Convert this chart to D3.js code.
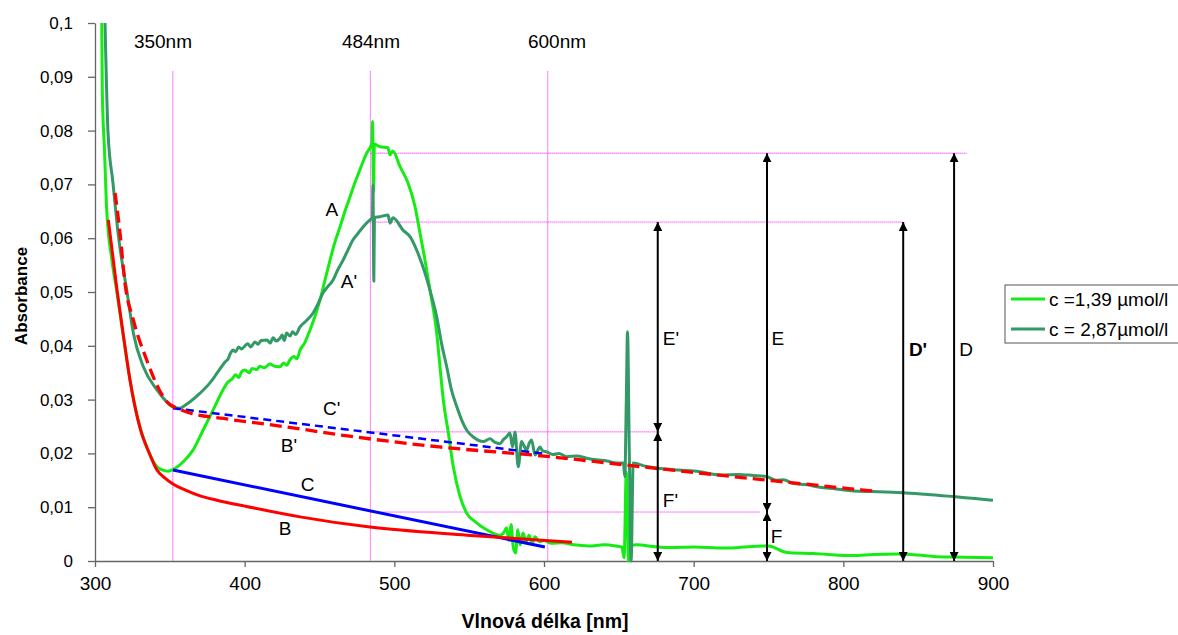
<!DOCTYPE html>
<html>
<head>
<meta charset="utf-8">
<script src="https://cdn.jsdelivr.net/npm/d3@7"></script>
<style>
    body { margin: 0; background: #fff; }
    text { font-family: "Liberation Sans", Arial, sans-serif; }
</style>
</head>
<body>
<div id="chart"></div>
<script>

// ---- data: [wavelength nm, absorbance] ----

// c = 1,39 µmol/l (light green)
const lowConc = [
    [304.5,0.100],[304.9,0.087],[306.3,0.0766],[307.8,0.0654],[311.2,0.0561],[314.5,0.0502],[318.7,0.0422],
    [322.7,0.0348],[328.7,0.0263],[335.4,0.0206],[341.4,0.0175],[345.4,0.0169],[348.8,0.0167],[352.1,0.0170],
    [358.8,0.0184],[365.5,0.0206],[372.2,0.0243],[378.8,0.0280],[385.5,0.0318],[389,0.0333],[391.5,0.0338],
    [394,0.0346],[396,0.0341],[398,0.0352],[400.2,0.0355],[403,0.0350],[405,0.0358],[408,0.0356],[410.2,0.0362],
    [413,0.0359],[416.9,0.0366],[420,0.0362],[423.6,0.0361],[426,0.0368],[428,0.0364],[430.3,0.0374],[433,0.0380],
    [435,0.0376],[437,0.0392],[440,0.0405],[443.6,0.0429],[447,0.0455],[450.3,0.0485],[453.5,0.0520],[457,0.0559],
    [460,0.0590],[463.7,0.0621],[467,0.0650],[470.4,0.0677],[473.5,0.0702],[477,0.0727],[481.5,0.0758],
    [483.7,0.0768],[485,0.0777],[485.5,0.0817],[486,0.0685],[486.7,0.0775],[490.4,0.0770],[495.8,0.0768],
    [497,0.0755],[499,0.0762],[503.8,0.0733],[509.1,0.0703],[513.8,0.0659],[517.1,0.0610],[520.5,0.0559],
    [523.8,0.0504],[528.3,0.0424],[530.5,0.0361],[532.7,0.0300],[536.1,0.0238],[539.4,0.0175],[543.9,0.0120],
    [548.3,0.0089],[555,0.0071],[561.7,0.0058],[570.6,0.0048],[573,0.0052],[575,0.0062],[576.5,0.0038],
    [578,0.0068],[579.5,0.0025],[581,0.0015],[582.5,0.0058],[584,0.0030],[586,0.0052],[588,0.0035],[590,0.0048],
    [592,0.0032],[594,0.0045],[597,0.0036],[600,0.0038],[605,0.0033],[612,0.0034],[620,0.0030],[630,0.0028],
    [640,0.0030],[648,0.0028],[652,0.0026],[653.5,0.0006],[655,0.0165],[656.5,0.0000],[658,0.0028],[662,0.0030],
    [672.8,0.0027],[685,0.0025],[700,0.0026],[720,0.0024],[739.6,0.0027],[750,0.0028],[762,0.0016],[780,0.0014],
    [806,0.0010],[820,0.0012],[835.5,0.0013],[850,0.0011],[862,0.0008],[880,0.0007],[900,0.0006]
];

// c = 2,87 µmol/l (dark green)
const highConc = [
    [306.7,0.100],[308.7,0.0796],[312.0,0.0703],[315.4,0.0610],[321.4,0.0500],[325.6,0.0424],[332.3,0.0361],
    [341.4,0.0318],[346.8,0.0299],[352.1,0.0286],[356.8,0.0284],[360,0.0289],[363.5,0.0296],[370.2,0.0312],
    [376.8,0.0331],[381.5,0.0349],[386.9,0.0370],[389,0.0376],[390.5,0.0386],[392.2,0.0392],[394,0.0389],
    [396,0.0398],[398,0.0394],[400.2,0.0400],[402,0.0404],[404,0.0398],[406.9,0.0407],[409,0.0403],[411,0.0410],
    [414.9,0.0411],[417,0.0405],[419,0.0415],[421,0.0409],[423.6,0.0414],[425,0.0420],[426.5,0.0410],[428,0.0424],
    [430.3,0.0418],[432,0.0426],[434,0.0421],[437,0.0435],[441,0.0446],[445.7,0.0461],[449,0.0478],[452.3,0.0498],
    [455.5,0.0510],[459,0.0522],[462,0.0540],[465.7,0.0559],[469,0.0578],[472.4,0.0597],[476,0.0610],[479.1,0.0621],
    [483.7,0.0634],[485.4,0.0638],[485.7,0.0699],[486.3,0.0520],[486.7,0.0639],[490.4,0.0640],[495.8,0.0643],
    [497.1,0.0628],[499.1,0.0638],[505.8,0.0615],[510.5,0.0603],[515.8,0.0572],[520.5,0.0535],[525,0.0491],
    [528.3,0.0454],[531.5,0.0405],[535,0.0361],[538,0.0320],[541.7,0.0287],[545,0.0262],[548.4,0.0243],
    [553,0.0230],[559.4,0.0222],[563.9,0.0227],[567,0.0221],[570.5,0.0218],[573,0.0226],[575,0.0231],
    [577.2,0.0238],[579,0.0212],[580.6,0.0240],[582.8,0.0175],[585,0.0222],[586.5,0.0215],[588.4,0.0206],
    [590,0.0218],[591.7,0.0225],[594,0.0197],[597.3,0.0212],[599,0.0205],[601.7,0.0203],[606,0.0198],[610,0.0200],
    [615,0.0194],[622,0.0195],[628.5,0.0191],[635,0.0188],[642,0.0186],[648.5,0.0182],[653,0.0182],[654,0.0157],
    [655,0.0300],[655.8,0.0426],[657,0.0200],[658.2,0.0000],[659.6,0.0182],[668,0.0176],[677.4,0.0172],
    [690,0.0169],[704,0.0166],[717.5,0.0160],[730,0.0161],[740,0.0159],[748.7,0.0157],[755,0.0150],[760,0.0151],
    [766.5,0.0144],[775,0.0142],[784.3,0.0137],[795,0.0134],[806.6,0.0130],[820,0.0129],[839.5,0.0127],
    [855,0.0124],[873.3,0.0120],[888,0.0116],[900,0.0113]
];

// baselines drawn by hand
const baseB = [
    [308.9,0.0634],[314.7,0.0504],[319.4,0.0411],[323.4,0.0336],[330.1,0.0247],[336.8,0.0197],[341.4,0.0169],
    [346.8,0.0154],[352.1,0.0143],[360.1,0.0132],[370.2,0.0121],[381.5,0.0113],[400.2,0.0102],[437,0.0082],
    [483.7,0.0063],[548.5,0.0048],[618.7,0.0035]
];
const baseBPrime = [
    [313.4,0.0684],[316.7,0.0610],[320,0.0517],[325.6,0.0448],[334.5,0.0374],[343,0.0318],[348,0.0296],
    [355,0.0284],[363.5,0.0275],[385.7,0.0265],[425.8,0.0250],[470,0.0232],[530,0.0212],[600,0.0195],
    [672,0.0173],[750,0.0150],[820,0.0130]
];
const baseC = [[352.1,0.0169],[600.6,0.0026]];
const baseCPrime = [[352.1,0.0284],[601,0.0199]];

// reference wavelengths and levels
const refWaves = [352, 484, 602.5];
const refTop = 0.091;
const waveLabels = ["350nm", "484nm", "600nm"];
const waveLabelX = [345.4, 484.4, 608.7];
const waveLabelY = 0.0965;

const levelValues = [0.0758, 0.0630, 0.0240, 0.0091];
const levelEnds = [882.5, 839.8, 677.5, 744.3];

// arrows: x, from, to
const arrowX = [676, 676, 749, 749, 840, 874];
const arrowFrom = [0.0630, 0.0240, 0.0758, 0.0091, 0.0630, 0.0758];
const arrowTo = [0.0240, 0.0, 0.0091, 0.0, 0.0, 0.0];

// letters
const letterText = ["A", "A'", "C'", "B'", "C", "B", "E'", "E", "D'", "D", "F'", "F"];
const letterX = [458.2, 469.7, 458.2, 429.6, 442, 427, 684.8, 756.3, 849.9, 882, 684.5, 755.4];
const letterY = [0.0653, 0.0520, 0.0284, 0.0215, 0.0143, 0.0061, 0.0414, 0.0414, 0.0394, 0.0394, 0.0113, 0.0046];

const xTicks = [300, 400, 500, 600, 700, 800, 900];
const yTicks = [0, 0.01, 0.02, 0.03, 0.04, 0.05, 0.06, 0.07, 0.08, 0.09, 0.1];

const legendNames = ["c =1,39 µmol/l", "c = 2,87µmol/l"];
const colors = {low: "#14ec14", high: "#339966", red: "#ff0000", blue: "#0000ff", ref: "#ff00ff"};


class SpectrumVis {

    constructor(parentElement) {
        this.parentElement = parentElement;
        this.initVis();
    }

    initVis() {
        let vis = this;

        vis.margin = {top: 23, right: 185, bottom: 74, left: 95};
        vis.width = 1178 - vis.margin.left - vis.margin.right;
        vis.height = 635 - vis.margin.top - vis.margin.bottom;

        vis.svg = d3.select(`#${vis.parentElement}`)
            .append("svg")
            .attr("width", 1178)
            .attr("height", 635);

        vis.g = vis.svg.append("g")
            .attr("transform", `translate(${vis.margin.left}, ${vis.margin.top})`);

        vis.x = d3.scaleLinear().domain([300, 900]).range([0, vis.width]);
        vis.y = d3.scaleLinear().domain([0, 0.1]).range([vis.height, 0]);

        vis.svg.append("defs").append("clipPath")
            .attr("id", "plotClip")
            .append("rect")
            .attr("x", 0).attr("y", 0)
            .attr("width", vis.width).attr("height", vis.height + 2);

        let marker = vis.svg.select("defs").append("marker")
            .attr("id", "arrowHead")
            .attr("viewBox", "0 0 10 10")
            .attr("refX", 10).attr("refY", 5)
            .attr("markerWidth", 9).attr("markerHeight", 9)
            .attr("markerUnits", "userSpaceOnUse")
            .attr("orient", "auto-start-reverse");
        marker.append("path").attr("d", "M0,0 L10,5 L0,10 Z").attr("fill", "#000");

        vis.line = d3.line()
            .x(d => vis.x(d[0]))
            .y(d => vis.y(d[1]))
            .curve(d3.curveMonotoneX);

        vis.drawAxes();
        vis.updateVis();
    }

    drawAxes() {
        let vis = this;

        let xAxis = d3.axisBottom(vis.x).tickValues(xTicks).tickSize(6).tickPadding(10).tickSizeOuter(0);
        let yAxis = d3.axisLeft(vis.y).tickValues(yTicks).tickSize(7).tickPadding(15).tickSizeOuter(0)
            .tickFormat(d => d3.format("")(+d.toFixed(2)).replace(".", ","));

        let gx = vis.g.append("g")
            .attr("transform", `translate(0, ${vis.height})`)
            .call(xAxis);
        let gy = vis.g.append("g").call(yAxis);

        [gx, gy].forEach(a => {
            a.select(".domain").attr("stroke", "#666").attr("stroke-width", 1.3);
            a.selectAll(".tick line").attr("stroke", "#666").attr("stroke-width", 1.3);
            a.selectAll(".tick text")
                .attr("fill", "#000")
                .style("font-family", '"Liberation Sans", Arial, sans-serif');
        });
        gx.selectAll(".tick text").style("font-size", "19px");
        gy.selectAll(".tick text").style("font-size", "17px");

        vis.g.append("text")
            .attr("transform", `translate(-68, ${vis.height / 2 + 4}) rotate(-90)`)
            .attr("text-anchor", "middle")
            .style("font-size", "17px")
            .style("font-weight", "bold")
            .text("Absorbance");

        vis.g.append("text")
            .attr("x", vis.x(600.7))
            .attr("y", vis.height + 67)
            .attr("text-anchor", "middle")
            .style("font-size", "19.5px")
            .style("font-weight", "bold")
            .text("Vlnová délka [nm]");
    }

    updateVis() {
        let vis = this;

        // magenta reference lines
        let refs = vis.g.append("g")
            .attr("stroke", colors.ref)
            .attr("stroke-width", 1)
            .attr("stroke-dasharray", "1,1");

        refs.selectAll(".vref")
            .data(refWaves)
            .enter().append("line")
            .attr("class", "vref")
            .attr("x1", d => vis.x(d)).attr("x2", d => vis.x(d))
            .attr("y1", vis.y(refTop)).attr("y2", vis.y(0));

        refs.selectAll(".href")
            .data(levelValues)
            .enter().append("line")
            .attr("class", "href")
            .attr("x1", vis.x(refWaves[1]))
            .attr("x2", (d, i) => vis.x(levelEnds[i]))
            .attr("y1", d => vis.y(d)).attr("y2", d => vis.y(d));

        vis.g.selectAll(".waveLabel")
            .data(waveLabels)
            .enter().append("text")
            .attr("class", "waveLabel")
            .attr("x", (d, i) => vis.x(waveLabelX[i]))
            .attr("y", vis.y(waveLabelY))
            .attr("dy", "0.35em")
            .attr("text-anchor", "middle")
            .style("font-size", "19px")
            .text(d => d);

        // spectra
        let plot = vis.g.append("g").attr("clip-path", "url(#plotClip)");

        plot.append("path").datum(lowConc)
            .attr("d", vis.line).attr("fill", "none")
            .attr("stroke", colors.low).attr("stroke-width", 3).attr("stroke-linejoin", "round");

        plot.append("path").datum(highConc)
            .attr("d", vis.line).attr("fill", "none")
            .attr("stroke", colors.high).attr("stroke-width", 3).attr("stroke-linejoin", "round");

        // baselines
        plot.append("path").datum(baseCPrime)
            .attr("d", vis.line).attr("fill", "none")
            .attr("stroke", colors.blue).attr("stroke-width", 2.5).attr("stroke-dasharray", "8,5");

        plot.append("path").datum(baseC)
            .attr("d", vis.line).attr("fill", "none")
            .attr("stroke", colors.blue).attr("stroke-width", 3);

        plot.append("path").datum(baseBPrime)
            .attr("d", vis.line).attr("fill", "none")
            .attr("stroke", colors.red).attr("stroke-width", 3.3).attr("stroke-dasharray", "12,6");

        plot.append("path").datum(baseB)
            .attr("d", vis.line).attr("fill", "none")
            .attr("stroke", colors.red).attr("stroke-width", 3);

        // arrows
        vis.g.selectAll(".arrow")
            .data(arrowX)
            .enter().append("line")
            .attr("class", "arrow")
            .attr("x1", d => vis.x(d)).attr("x2", d => vis.x(d))
            .attr("y1", (d, i) => vis.y(arrowFrom[i]))
            .attr("y2", (d, i) => vis.y(arrowTo[i]))
            .attr("stroke", "#000")
            .attr("stroke-width", 2)
            .attr("marker-start", "url(#arrowHead)")
            .attr("marker-end", "url(#arrowHead)");

        // letters
        vis.g.selectAll(".letter")
            .data(letterText)
            .enter().append("text")
            .attr("class", "letter")
            .attr("x", (d, i) => vis.x(letterX[i]))
            .attr("y", (d, i) => vis.y(letterY[i]))
            .attr("dy", "0.35em")
            .attr("text-anchor", "middle")
            .style("font-size", "19px")
            .style("font-weight", d => d === "D'" ? "bold" : "normal")
            .text(d => d);

        // legend
        let legend = vis.svg.append("g")
            .attr("transform", "translate(1005, 285)");

        legend.append("rect")
            .attr("x", 0).attr("y", 0)
            .attr("width", 180).attr("height", 58)
            .attr("fill", "#fff")
            .attr("stroke", "#555")
            .attr("stroke-width", 1);

        let items = legend.selectAll(".item")
            .data(legendNames)
            .enter().append("g")
            .attr("class", "item")
            .attr("transform", (d, i) => `translate(0, ${14 + i * 30})`);

        items.append("line")
            .attr("x1", 6).attr("x2", 40)
            .attr("stroke", (d, i) => i === 0 ? colors.low : colors.high)
            .attr("stroke-width", 3);

        items.append("text")
            .attr("x", 44)
            .attr("dy", "0.35em")
            .style("font-size", "19px")
            .text(d => d);
    }
}

new SpectrumVis("chart");

</script>
</body>
</html>
